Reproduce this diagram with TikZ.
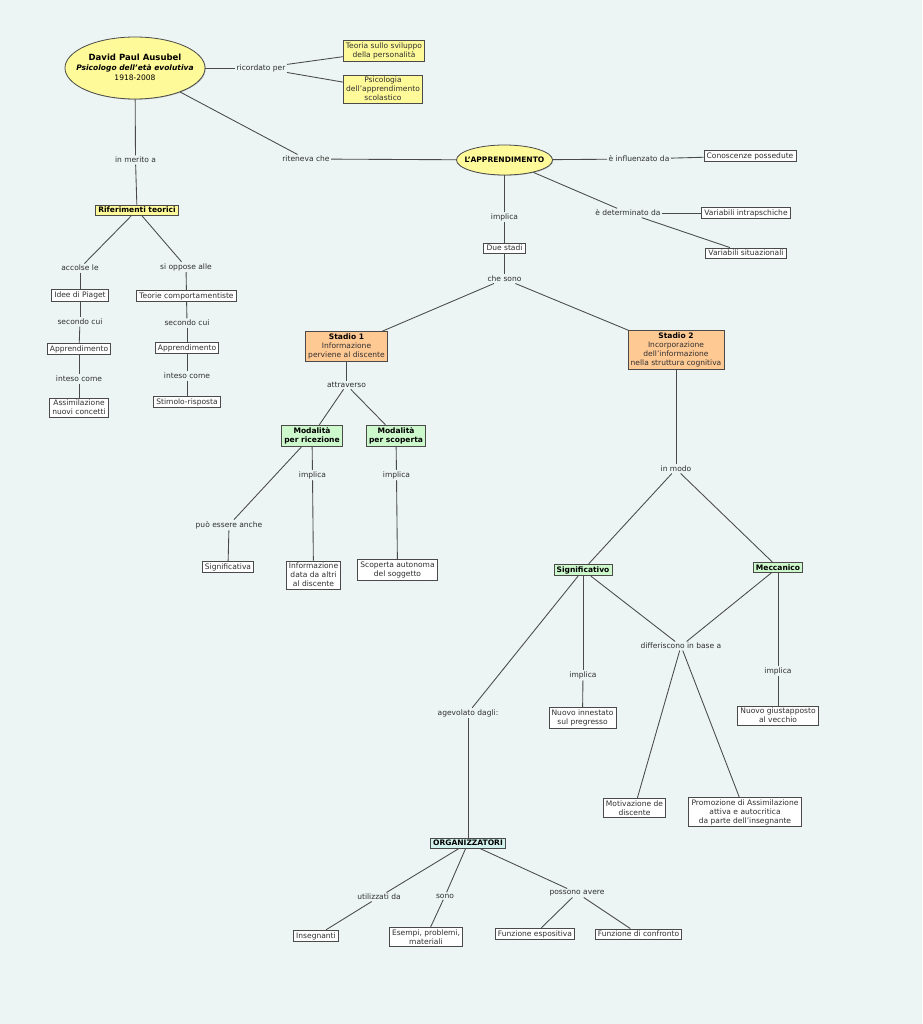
\documentclass[tikz,border=0pt]{standalone}
\usepackage{fontspec}
\setmainfont{DejaVu Sans}
\usetikzlibrary{shapes.geometric,shadows}
\definecolor{bg}{HTML}{ECF5F3}
\definecolor{ylw}{HTML}{FFFA99}
\definecolor{org}{HTML}{FFC994}
\definecolor{grn}{HTML}{CCF8CC}
\definecolor{cyn}{HTML}{D2F2EE}
\definecolor{ln}{HTML}{4A4A4A}
\definecolor{tx}{HTML}{303030}
\newcommand{\fs}{\fontsize{5.65}{6.7}\selectfont}
\tikzset{
  x=0.75pt, y=-0.75pt,
  box/.style={draw=ln, fill=white, rectangle, inner xsep=2pt, inner ysep=1.6pt, align=center, font=\fs, text=tx, line width=0.6pt,
     drop shadow={shadow xshift=0.5pt, shadow yshift=-0.5pt, fill=black, opacity=0.25}},
  ybox/.style={box, fill=ylw},
  obox/.style={box, fill=org},
  gbox/.style={box, fill=grn},
  cbox/.style={box, fill=cyn},
  ell/.style={ellipse, draw=ln, fill=ylw, line width=0.6pt, inner sep=0pt, text=black,
     drop shadow={shadow xshift=0.5pt, shadow yshift=-0.5pt, fill=black, opacity=0.25}},
  lab/.style={inner sep=1pt, font=\fs, text=tx},
  conn/.style={draw=ln, line width=0.65pt},
}
\begin{document}
\begin{tikzpicture}
\fill[bg] (0,0) rectangle (922,1024);
\useasboundingbox (0,0) rectangle (922,1024);

% top-left
\node[ell, minimum width=105pt, minimum height=46.5pt] (dpa) at (135,68)
  {\makebox[0pt]{\fontsize{5.65}{7.5}\selectfont\begin{tabular}{@{}c@{}}
   {\fontsize{6.4}{7.6}\selectfont\bfseries David Paul Ausubel}\\
   {\bfseries\itshape Psicologo dell'età evolutiva}\\
   1918-2008\end{tabular}}};
\node[lab] (ricord) at (261,68) {ricordato per};
\node[ybox] (teoria) at (384,51) {Teoria sullo sviluppo\\della personalità};
\node[ybox] (psico) at (383,89) {Psicologia\\dell'apprendimento\\scolastico};
\node[lab] (riten) at (306,159) {riteneva che};
\node[ell, minimum width=72pt, minimum height=22.5pt] (app) at (504.5,160)
  {\makebox[0pt]{\fs\bfseries L'APPRENDIMENTO}};

% left branch
\node[lab] (merito) at (135.5,160) {in merito a};
\node[ybox, font=\fs\bfseries, text=black] (rif) at (137,210) {Riferimenti teorici};
\node[lab] (accolse) at (80,268) {accolse le};
\node[box] (piaget) at (80,295.5) {Idee di Piaget};
\node[lab] (sec1) at (80,322) {secondo cui};
\node[box] (app1) at (79,349) {Apprendimento};
\node[lab] (int1) at (79,379) {inteso come};
\node[box] (assim) at (79,407.5) {Assimilazione\\nuovi concetti};
\node[lab] (oppose) at (186,267) {si oppose alle};
\node[box] (teorie) at (186.5,296) {Teorie comportamentiste};
\node[lab] (sec2) at (187,323) {secondo cui};
\node[box] (app2) at (187,348) {Apprendimento};
\node[lab] (int2) at (187,376) {inteso come};
\node[box] (stim) at (187,402) {Stimolo-risposta};

% right of apprendimento
\node[lab] (influ) at (639,159) {è influenzato da};
\node[box] (conosc) at (750,156) {Conoscenze possedute};
\node[lab] (determ) at (628,213) {è determinato da};
\node[box] (intrap) at (746,213) {Variabili intrapschiche};
\node[box] (situaz) at (746,253) {Variabili situazionali};

% center
\node[lab] (impl0) at (504.5,217) {implica};
\node[box] (due) at (504.5,248) {Due stadi};
\node[lab] (chesono) at (504.5,279) {che sono};
\node[obox] (s1) at (346.5,346.5) {\textbf{\color{black}Stadio 1}\\Informazione\\perviene al discente};
\node[obox] (s2) at (676,350) {\textbf{\color{black}Stadio 2}\\Incorporazione\\dell'informazione\\nella struttura cognitiva};
\node[lab] (attrav) at (346.5,385) {attraverso};
\node[gbox, font=\fs\bfseries, text=black] (ric) at (312,435.5) {Modalità\\per ricezione};
\node[gbox, font=\fs\bfseries, text=black] (scop) at (396,435.5) {Modalità\\per scoperta};
\node[lab] (puo) at (229,525) {può essere anche};
\node[box] (signa) at (228,567) {Significativa};
\node[lab] (impl1) at (312.5,475) {implica};
\node[box] (info) at (313.5,575) {Informazione\\data da altri\\al discente};
\node[lab] (impl2) at (396.5,475) {implica};
\node[box] (scopaut) at (397.5,570) {Scoperta autonoma\\del soggetto};

% stadio 2 branch
\node[lab] (inmodo) at (676,469) {in modo};
\node[gbox, font=\fs\bfseries, text=black] (sig) at (583,570) {Significativo};
\node[gbox, font=\fs\bfseries, text=black] (mecc) at (778,567.5) {Meccanico};
\node[lab] (agev) at (468,713) {agevolato dagli:};
\node[lab] (impl3) at (583,675) {implica};
\node[box] (innest) at (582.5,718) {Nuovo innestato\\sul pregresso};
\node[lab] (diff) at (681,646) {differiscono in base a};
\node[lab] (impl4) at (778,671) {implica};
\node[box] (giust) at (778,715.5) {Nuovo giustapposto\\al vecchio};
\node[box] (motiv) at (634.5,808) {Motivazione de\\discente};
\node[box] (promo) at (745,812) {Promozione di Assimilazione\\attiva e autocritica\\da parte dell'insegnante};

% organizzatori
\node[cbox, font=\fs\bfseries, text=black] (orgz) at (468,843) {ORGANIZZATORI};
\node[lab] (util) at (379,897) {utilizzati da};
\node[box] (ins) at (316,936) {Insegnanti};
\node[lab] (sono) at (445,896) {sono};
\node[box] (esempi) at (426,937) {Esempi, problemi,\\materiali};
\node[lab] (poss) at (577,893) {possono avere};
\node[box] (fesp) at (535,934) {Funzione espositiva};
\node[box] (fconf) at (638.5,934) {Funzione di confronto};

% connectors
\begin{scope}[conn]
\draw (dpa) -- (ricord);
\draw (ricord) -- (teoria);
\draw (ricord) -- (psico);
\draw (dpa) -- (riten);
\draw (riten) -- (app);
\draw (dpa) -- (merito);
\draw (merito) -- (rif);
\draw (rif) -- (accolse);
\draw (accolse) -- (piaget);
\draw (piaget) -- (sec1);
\draw (sec1) -- (app1);
\draw (app1) -- (int1);
\draw (int1) -- (assim);
\draw (rif) -- (oppose);
\draw (oppose) -- (teorie);
\draw (teorie) -- (sec2);
\draw (sec2) -- (app2);
\draw (app2) -- (int2);
\draw (int2) -- (stim);
\draw (app) -- (influ);
\draw (influ) -- (conosc);
\draw (app) -- (determ);
\draw (determ) -- (intrap);
\draw (determ) -- (situaz);
\draw (app) -- (impl0);
\draw (impl0) -- (due);
\draw (due) -- (chesono);
\draw (chesono) -- (s1);
\draw (chesono) -- (s2);
\draw (s1) -- (attrav);
\draw (attrav) -- (ric);
\draw (attrav) -- (scop);
\draw (ric) -- (puo);
\draw (puo) -- (signa);
\draw (ric) -- (impl1);
\draw (impl1) -- (info);
\draw (scop) -- (impl2);
\draw (impl2) -- (scopaut);
\draw (s2) -- (inmodo);
\draw (inmodo) -- (sig);
\draw (inmodo) -- (mecc);
\draw (sig) -- (agev);
\draw (agev) -- (orgz);
\draw (sig) -- (impl3);
\draw (impl3) -- (innest);
\draw (sig) -- (diff);
\draw (mecc) -- (diff);
\draw (mecc) -- (impl4);
\draw (impl4) -- (giust);
\draw (diff) -- (motiv);
\draw (diff) -- (promo);
\draw (orgz) -- (util);
\draw (util) -- (ins);
\draw (orgz) -- (sono);
\draw (sono) -- (esempi);
\draw (orgz) -- (poss);
\draw (poss) -- (fesp);
\draw (poss) -- (fconf);
\end{scope}
\end{tikzpicture}
\end{document}
